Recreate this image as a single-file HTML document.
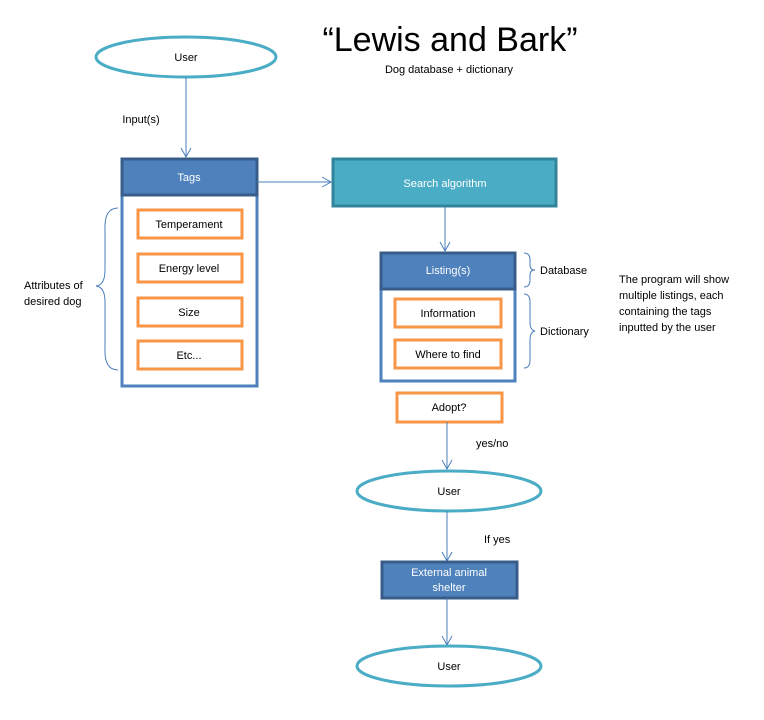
<!DOCTYPE html>
<html><head><meta charset="utf-8"><style>body{margin:0;background:#fff}svg{display:block}text{font-family:"Liberation Sans",sans-serif}</style></head><body>
<svg width="764" height="720" viewBox="0 0 764 720" xmlns="http://www.w3.org/2000/svg">
<defs><marker id="a" markerWidth="12" markerHeight="12" refX="10" refY="6" orient="auto" markerUnits="userSpaceOnUse"><path d="M1,1 L10,6 L1,11" fill="none" stroke="#4a7ebb" stroke-width="1"/></marker></defs>
<text x="450" y="51" font-size="34" text-anchor="middle" fill="#000">“Lewis and Bark”</text>
<text x="449" y="73" font-size="11" text-anchor="middle">Dog database + dictionary</text>
<ellipse cx="186" cy="57" rx="90" ry="20" fill="#fff" stroke="#4bacc6" stroke-width="3"/>
<text x="186" y="61" font-size="11" text-anchor="middle">User</text>
<line x1="186" y1="77" x2="186" y2="157" stroke="#4a7ebb" marker-end="url(#a)"/>
<text x="141" y="123" font-size="11" text-anchor="middle">Input(s)</text>
<rect x="122" y="159" width="135" height="227" fill="#fff" stroke="#4f81bd" stroke-width="3"/>
<rect x="122" y="159" width="135" height="36" fill="#4f81bd" stroke="#385d8a" stroke-width="3"/>
<text x="189" y="181" font-size="11" text-anchor="middle" fill="#fff">Tags</text>
<g fill="#fff" stroke="#f79646" stroke-width="3">
<rect x="138" y="210" width="104" height="28"/><rect x="138" y="254" width="104" height="28"/><rect x="138" y="298" width="104" height="28"/><rect x="138" y="341" width="104" height="28"/>
<rect x="395" y="299" width="106" height="28"/><rect x="395" y="340" width="106" height="28"/><rect x="397" y="393" width="105" height="29"/></g>
<g font-size="11" text-anchor="middle">
<text x="189" y="228">Temperament</text><text x="189" y="272">Energy level</text><text x="189" y="316">Size</text><text x="189" y="359">Etc...</text>
<text x="448" y="317">Information</text><text x="448" y="358">Where to find</text><text x="449" y="411">Adopt?</text></g>
<line x1="257" y1="182" x2="331" y2="182" stroke="#4a7ebb" marker-end="url(#a)"/>
<rect x="333" y="159" width="223" height="47" fill="#4bacc6" stroke="#31849b" stroke-width="3"/>
<text x="445" y="187" font-size="11" text-anchor="middle" fill="#fff">Search algorithm</text>
<line x1="445" y1="207" x2="445" y2="251" stroke="#4a7ebb" marker-end="url(#a)"/>
<rect x="381" y="253" width="134" height="128" fill="none" stroke="#4f81bd" stroke-width="3"/>
<rect x="381" y="253" width="134" height="36" fill="#4f81bd" stroke="#385d8a" stroke-width="3"/>
<text x="448" y="274" font-size="11" text-anchor="middle" fill="#fff">Listing(s)</text>
<path d="M118,208 Q104,208 105,230 L105,270 Q105,285 96,286 Q105,287 105,302 L105,348 Q104,370 118,370" fill="none" stroke="#4a7ebb"/>
<text x="24" y="289" font-size="11">Attributes of</text><text x="24" y="305" font-size="11">desired dog</text>
<path d="M524,253 Q530,253 530,260 L530,265 Q530,270 535,270 Q530,270 530,275 L530,280 Q530,287 524,287" fill="none" stroke="#4a7ebb"/>
<path d="M524,294 Q530,294 530,302 L530,322 Q530,330 535,331 Q530,332 530,340 L530,360 Q530,368 524,368" fill="none" stroke="#4a7ebb"/>
<text x="540" y="274" font-size="11">Database</text><text x="540" y="335" font-size="11">Dictionary</text>
<text x="619" y="283" font-size="11">The program will show</text>
<text x="619" y="299" font-size="11">multiple listings, each</text>
<text x="619" y="315" font-size="11">containing the tags</text>
<text x="619" y="331" font-size="11">inputted by the user</text>
<line x1="447" y1="422" x2="447" y2="469" stroke="#4a7ebb" marker-end="url(#a)"/>
<text x="476" y="447" font-size="11">yes/no</text>
<ellipse cx="449" cy="491" rx="92" ry="20" fill="#fff" stroke="#4bacc6" stroke-width="3"/>
<text x="449" y="495" font-size="11" text-anchor="middle">User</text>
<line x1="447" y1="511" x2="447" y2="561" stroke="#4a7ebb" marker-end="url(#a)"/>
<text x="484" y="543" font-size="11">If yes</text>
<rect x="382" y="562" width="135" height="36" fill="#4f81bd" stroke="#385d8a" stroke-width="3"/>
<text x="449" y="576" font-size="11" text-anchor="middle" fill="#fff">External animal</text>
<text x="449" y="591" font-size="11" text-anchor="middle" fill="#fff">shelter</text>
<line x1="447" y1="598" x2="447" y2="645" stroke="#4a7ebb" marker-end="url(#a)"/>
<ellipse cx="449" cy="666" rx="92" ry="20" fill="#fff" stroke="#4bacc6" stroke-width="3"/>
<text x="449" y="670" font-size="11" text-anchor="middle">User</text>
</svg>
</body></html>
